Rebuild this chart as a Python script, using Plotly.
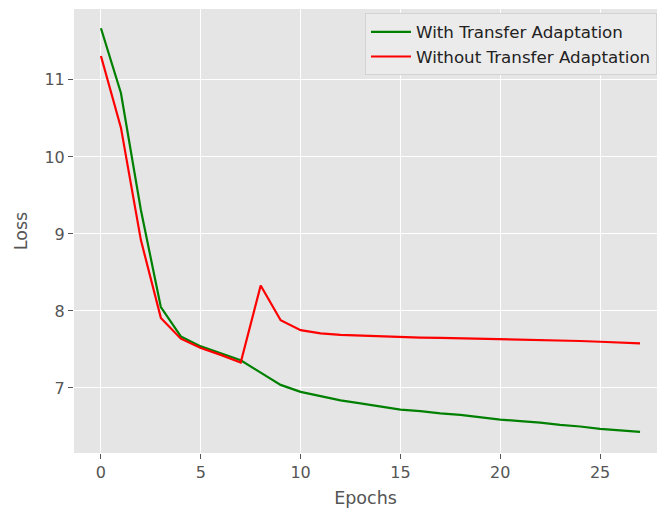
import plotly.graph_objects as go

epochs = list(range(28))
with_ta = [11.67, 10.83, 9.31, 8.05, 7.67, 7.54, 7.45, 7.36, 7.20, 7.04, 6.95, 6.89, 6.84, 6.80,
           6.76, 6.72, 6.70, 6.67, 6.65, 6.62, 6.59, 6.57, 6.55, 6.52, 6.50, 6.47, 6.45, 6.43]
without_ta = [11.31, 10.38, 8.92, 7.91, 7.64, 7.52, 7.43, 7.33, 8.33, 7.88, 7.75, 7.71, 7.69, 7.68,
              7.67, 7.66, 7.655, 7.65, 7.645, 7.64, 7.635, 7.63, 7.625, 7.62, 7.61, 7.60, 7.59, 7.58]
x_ticks = [0, 5, 10, 15, 20, 25]
y_ticks = [7, 8, 9, 10, 11]

fig = go.Figure()
fig.add_trace(go.Scatter(x=epochs, y=with_ta, mode="lines", name="With Transfer Adaptation",
                         line=dict(color="green", width=2.2)))
fig.add_trace(go.Scatter(x=epochs, y=without_ta, mode="lines", name="Without Transfer Adaptation",
                         line=dict(color="red", width=2.2)))

font = "DejaVu Sans"
fig.update_layout(
    width=657, height=508,
    margin=dict(l=74, r=0, t=9, b=55, autoexpand=False),
    paper_bgcolor="white", plot_bgcolor="#E5E5E5",
    font=dict(family=font, color="#555555", size=16),
    showlegend=True,
    legend=dict(x=1.0, y=0.99, xanchor="right", yanchor="top",
                bgcolor="#EBEBEB", bordercolor="#D3D3D3", borderwidth=1,
                font=dict(family=font, size=16.7, color="#222222"),
                itemwidth=40, tracegroupgap=0),
)
fig.update_xaxes(range=[-1.35, 27.85], tickvals=x_ticks, showgrid=True, gridcolor="white", gridwidth=1,
                 zeroline=False, ticks="outside", ticklen=5, tickcolor="#555555", automargin=False,
                 title=dict(text="Epochs", font=dict(size=17.5, color="#555555"), standoff=10))
fig.update_yaxes(range=[6.156, 11.92], tickvals=y_ticks, showgrid=True, gridcolor="white", gridwidth=1,
                 zeroline=False, ticks="outside", ticklen=5, tickcolor="#555555", automargin=False,
                 title=dict(text="Loss", font=dict(size=17.5, color="#555555"), standoff=12))

fig.write_html("out.html", config={"displayModeBar": False},
               post_script="document.body.style.margin='0';document.body.style.overflow='hidden';")
